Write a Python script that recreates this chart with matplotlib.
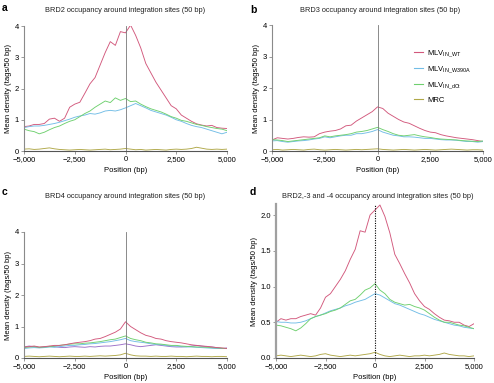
import numpy as np
import matplotlib
matplotlib.use("Agg")
import matplotlib.pyplot as plt
from matplotlib.ticker import FuncFormatter

plt.rcParams['font.family'] = ['Liberation Sans', 'DejaVu Sans']
plt.rcParams['mathtext.fontset'] = 'custom'
plt.rcParams['mathtext.rm'] = 'Liberation Sans'

positions = list(range(-5000, 5001, 250))

a_wt = [0.78, 0.80, 0.85, 0.85, 0.88, 1.02, 1.05, 0.95, 1.05, 1.40, 1.50, 1.56, 1.85, 2.15, 2.35, 2.75, 3.15, 3.50, 3.38, 3.82, 3.78,
        4.03, 3.70, 3.30, 2.80, 2.50, 2.20, 1.95, 1.70, 1.45, 1.35, 1.15, 1.05, 0.95, 0.87, 0.83, 0.80, 0.82, 0.75, 0.73, 0.72]
a_w390a = [0.75, 0.78, 0.80, 0.80, 0.82, 0.85, 0.88, 0.92, 0.97, 1.02, 1.08, 1.12, 1.15, 1.20, 1.18, 1.22, 1.28, 1.30, 1.28, 1.32, 1.38,
           1.45, 1.52, 1.45, 1.38, 1.30, 1.25, 1.20, 1.15, 1.08, 1.00, 0.95, 0.88, 0.82, 0.78, 0.75, 0.70, 0.65, 0.60, 0.55, 0.60]
a_dct = [0.70, 0.65, 0.62, 0.55, 0.60, 0.68, 0.75, 0.80, 0.88, 0.95, 1.00, 1.10, 1.20, 1.28, 1.40, 1.50, 1.60, 1.55, 1.70, 1.62, 1.68,
         1.58, 1.60, 1.50, 1.42, 1.35, 1.30, 1.25, 1.18, 1.10, 1.05, 0.98, 0.95, 0.90, 0.85, 0.82, 0.78, 0.75, 0.72, 0.70, 0.65]
a_mrc = [0.06, 0.07, 0.05, 0.06, 0.08, 0.10, 0.07, 0.05, 0.04, 0.03, 0.04, 0.05, 0.04, 0.03, 0.04, 0.05, 0.06, 0.04, 0.05, 0.06, 0.08,
         0.06, 0.04, 0.05, 0.03, 0.04, 0.05, 0.04, 0.03, 0.05, 0.06, 0.05, 0.06, 0.08, 0.12, 0.09, 0.06, 0.05, 0.06, 0.05, 0.06]

b_wt = [0.35, 0.42, 0.40, 0.38, 0.40, 0.43, 0.45, 0.44, 0.45, 0.55, 0.60, 0.63, 0.65, 0.70, 0.80, 0.82, 0.95, 1.05, 1.15, 1.25, 1.40,
        1.35, 1.20, 1.10, 1.00, 0.92, 0.88, 0.80, 0.72, 0.65, 0.60, 0.58, 0.52, 0.48, 0.45, 0.42, 0.40, 0.38, 0.36, 0.33, 0.30]
b_w390a = [0.32, 0.33, 0.30, 0.28, 0.30, 0.32, 0.33, 0.35, 0.38, 0.40, 0.45, 0.42, 0.45, 0.48, 0.50, 0.50, 0.55, 0.55, 0.58, 0.62, 0.68,
           0.60, 0.55, 0.50, 0.48, 0.45, 0.45, 0.44, 0.42, 0.40, 0.40, 0.38, 0.36, 0.35, 0.35, 0.34, 0.32, 0.30, 0.30, 0.28, 0.30]
b_dct = [0.36, 0.35, 0.33, 0.30, 0.32, 0.34, 0.36, 0.38, 0.40, 0.42, 0.48, 0.45, 0.48, 0.50, 0.52, 0.55, 0.60, 0.62, 0.65, 0.70, 0.75,
         0.68, 0.62, 0.55, 0.50, 0.48, 0.50, 0.52, 0.48, 0.45, 0.43, 0.40, 0.38, 0.37, 0.36, 0.35, 0.33, 0.32, 0.31, 0.30, 0.32]
b_mrc = [0.04, 0.05, 0.03, 0.04, 0.05, 0.04, 0.03, 0.05, 0.06, 0.04, 0.03, 0.04, 0.05, 0.04, 0.03, 0.04, 0.05, 0.04, 0.05, 0.06, 0.07,
         0.05, 0.04, 0.03, 0.04, 0.05, 0.04, 0.03, 0.04, 0.05, 0.04, 0.03, 0.04, 0.05, 0.06, 0.05, 0.04, 0.03, 0.04, 0.04, 0.03]

c_wt = [0.35, 0.36, 0.38, 0.35, 0.36, 0.38, 0.40, 0.40, 0.42, 0.45, 0.48, 0.50, 0.52, 0.55, 0.60, 0.62, 0.68, 0.75, 0.82, 0.92, 1.15,
        1.00, 0.90, 0.80, 0.72, 0.68, 0.62, 0.60, 0.55, 0.52, 0.50, 0.48, 0.45, 0.42, 0.40, 0.38, 0.37, 0.35, 0.33, 0.32, 0.30]
c_w390a = [0.30, 0.32, 0.33, 0.32, 0.33, 0.35, 0.34, 0.36, 0.38, 0.40, 0.40, 0.42, 0.43, 0.45, 0.46, 0.48, 0.50, 0.52, 0.55, 0.58, 0.62,
           0.55, 0.52, 0.50, 0.48, 0.45, 0.43, 0.42, 0.40, 0.38, 0.38, 0.36, 0.35, 0.35, 0.34, 0.33, 0.32, 0.31, 0.30, 0.30, 0.30]
c_dct = [0.33, 0.35, 0.36, 0.34, 0.35, 0.36, 0.38, 0.40, 0.42, 0.44, 0.45, 0.45, 0.47, 0.48, 0.50, 0.52, 0.55, 0.58, 0.60, 0.65, 0.70,
         0.62, 0.58, 0.55, 0.50, 0.48, 0.45, 0.44, 0.42, 0.40, 0.40, 0.38, 0.37, 0.36, 0.35, 0.35, 0.34, 0.33, 0.32, 0.31, 0.30]
c_other = [0.35, 0.38, 0.36, 0.33, 0.35, 0.37, 0.36, 0.34, 0.33, 0.35, 0.36, 0.35, 0.34, 0.36, 0.35, 0.37, 0.38, 0.38, 0.40, 0.42, 0.45,
           0.42, 0.38, 0.36, 0.38, 0.40, 0.42, 0.40, 0.38, 0.36, 0.35, 0.35, 0.36, 0.38, 0.40, 0.38, 0.36, 0.35, 0.33, 0.30, 0.32]
c_mrc = [0.05, 0.06, 0.05, 0.04, 0.05, 0.06, 0.05, 0.04, 0.05, 0.06, 0.05, 0.05, 0.06, 0.05, 0.06, 0.07, 0.06, 0.07, 0.08, 0.10, 0.15,
         0.10, 0.07, 0.06, 0.06, 0.05, 0.06, 0.05, 0.05, 0.06, 0.05, 0.05, 0.04, 0.05, 0.06, 0.05, 0.05, 0.04, 0.05, 0.05, 0.04]

d_wt = [0.50, 0.55, 0.53, 0.55, 0.55, 0.58, 0.60, 0.62, 0.60, 0.70, 0.85, 0.90, 1.00, 1.10, 1.22, 1.38, 1.52, 1.78, 1.76, 2.00, 2.07,
        2.14, 1.98, 1.75, 1.45, 1.32, 1.18, 1.05, 0.90, 0.80, 0.72, 0.68, 0.62, 0.57, 0.53, 0.52, 0.50, 0.50, 0.46, 0.44, 0.48]
d_w390a = [0.51, 0.50, 0.50, 0.49, 0.49, 0.50, 0.52, 0.55, 0.58, 0.60, 0.63, 0.66, 0.68, 0.70, 0.73, 0.75, 0.78, 0.80, 0.82, 0.86, 0.90,
           0.88, 0.84, 0.80, 0.76, 0.74, 0.71, 0.68, 0.65, 0.62, 0.60, 0.57, 0.54, 0.52, 0.50, 0.48, 0.46, 0.45, 0.43, 0.42, 0.41]
d_dct = [0.46, 0.45, 0.43, 0.41, 0.38, 0.42, 0.48, 0.55, 0.58, 0.60, 0.62, 0.65, 0.67, 0.70, 0.75, 0.80, 0.82, 0.88, 0.95, 0.98, 1.04,
         0.95, 0.90, 0.82, 0.78, 0.76, 0.74, 0.75, 0.72, 0.70, 0.67, 0.62, 0.57, 0.53, 0.50, 0.50, 0.48, 0.46, 0.45, 0.43, 0.41]
d_mrc = [0.03, 0.04, 0.03, 0.02, 0.03, 0.04, 0.03, 0.02, 0.03, 0.05, 0.06, 0.04, 0.03, 0.02, 0.03, 0.04, 0.03, 0.04, 0.05, 0.06, 0.08,
         0.05, 0.03, 0.02, 0.03, 0.04, 0.03, 0.02, 0.03, 0.03, 0.04, 0.03, 0.04, 0.05, 0.07, 0.05, 0.04, 0.03, 0.03, 0.02, 0.03]

titles = ["BRD2 occupancy around integration sites (50 bp)",
          "BRD3 occupancy around integration sites (50 bp)",
          "BRD4 occupancy around integration sites (50 bp)",
          "BRD2,-3 and -4 occupancy around integration sites (50 bp)"]
panel_letters = ["a", "b", "c", "d"]
legend_labels = ["MLV$_{\\mathregular{IN\\_WT}}$", "MLV$_{\\mathregular{IN\\_W390A}}$",
                 "MLV$_{\\mathregular{IN\\_dCt}}$", "MRC"]
x_ticks = [-5000, -2500, 0, 2500, 5000]

C_WT = "#d2587c"
C_W390A = "#72bde6"
C_DCT = "#6fd06f"
C_MRC = "#b0a848"
C_OTHER = "#9b6fc8"
SP = "#8a8a8a"

W, H = 494, 383
fig = plt.figure(figsize=(W / 100, H / 100), dpi=100)

def fr(l, t, r, b):
    return [l / W, 1 - b / H, (r - l) / W, (b - t) / H]

rects = [fr(24, 26, 227, 151), fr(272, 25, 483, 151), fr(24, 232, 227, 358), fr(276, 204.3, 474, 358)]
series = [
    [(a_wt, C_WT), (a_w390a, C_W390A), (a_dct, C_DCT), (a_mrc, C_MRC)],
    [(b_wt, C_WT), (b_w390a, C_W390A), (b_dct, C_DCT), (b_mrc, C_MRC)],
    [(c_other, C_OTHER), (c_w390a, C_W390A), (c_dct, C_DCT), (c_wt, C_WT), (c_mrc, C_MRC)],
    [(d_wt, C_WT), (d_w390a, C_W390A), (d_dct, C_DCT), (d_mrc, C_MRC)],
]
title_pos = [(125, 11), (380, 11), (125, 197), (378, 197)]
letter_pos = [(2, 8), (250, 10), (2, 192), (250, 192)]

fmt = FuncFormatter(lambda v, p: ("\u2212" if v < 0 else "") + f"{abs(int(v)):,}")

for i, rect in enumerate(rects):
    ax = fig.add_axes(rect)
    for vals, col in series[i]:
        ax.plot(positions, vals, color=col, lw=0.65)
    ax.set_xlim(-5000, 5000)
    if i < 3:
        ax.set_ylim(0, 4)
        ax.set_yticks([0, 1, 2, 3, 4])
        ax.axvline(0, color="#777777", lw=0.6)
    else:
        ax.set_ylim(0, 2.15)
        ax.set_yticks([0, 0.5, 1.0, 1.5, 2.0])
        ax.yaxis.set_major_formatter(FuncFormatter(lambda v, p: f"{v:.1f}"))
        ax.axvline(0, color="black", lw=0.8, ls=(0, (1, 1.2)))
    ax.set_xticks(x_ticks)
    ax.xaxis.set_major_formatter(fmt)
    for s in ["top", "right"]:
        ax.spines[s].set_visible(False)
    for s in ["left", "bottom"]:
        ax.spines[s].set_color(SP)
        ax.spines[s].set_linewidth(0.8)
    ax.spines["bottom"].set_color("#555555")
    if i == 3:
        ax.spines["left"].set_linewidth(1.6)
        ax.spines["left"].set_color("#a0a0a0")
    ax.tick_params(labelsize=5.5, length=2, width=0.6, color=SP, pad=1.5)
    ax.set_ylabel("Mean density (tags/50 bp)", fontsize=5.5, labelpad=2)
    ax.set_xlabel("Position (bp)", fontsize=5.5, labelpad=3)
    ax.patch.set_alpha(0)
    fig.text(title_pos[i][0] / W, 1 - title_pos[i][1] / H, titles[i], fontsize=5.3,
             ha="center", va="center", color="#222222")
    fig.text(letter_pos[i][0] / W, 1 - letter_pos[i][1] / H, panel_letters[i], fontsize=7.5,
             fontweight="bold", ha="left", va="center")
    if i == 1:
        handles = [plt.Line2D([], [], color=c, lw=0.8) for c in [C_WT, C_W390A, C_DCT, C_MRC]]
        ax.legend(handles, legend_labels, loc="upper left", bbox_to_anchor=(0.66, 0.84),
                  frameon=False, fontsize=5.5, handlelength=1.2, labelspacing=0.75,
                  handletextpad=0.5, borderaxespad=0)

fig.savefig("out.png", dpi=100)
